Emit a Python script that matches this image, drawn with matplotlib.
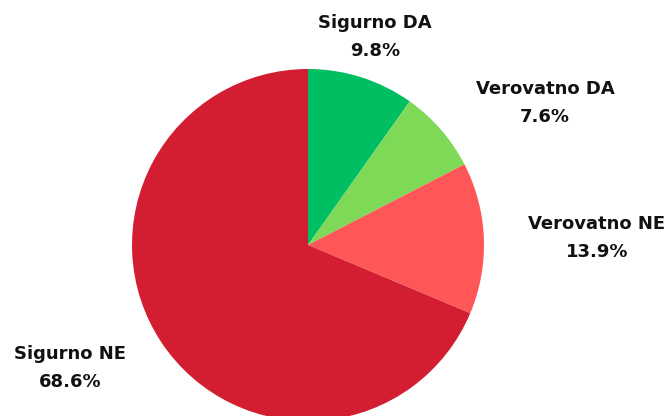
import matplotlib.pyplot as plt

categories = ['Sigurno DA', 'Verovatno DA', 'Verovatno NE', 'Sigurno NE']
shares = [9.8, 7.6, 13.9, 68.6]
colors = ['#00bf63', '#7ed957', '#ff5757', '#d31e32']

# label centres in pixel coordinates (y measured from top)
label_pos = [(375, 37), (545, 103), (597, 238), (70, 368)]

W, H = 670, 416
fig = plt.figure(figsize=(W / 100, H / 100), dpi=100)
ax = fig.add_axes([0, 0, 1, 1])

ax.pie(shares, colors=colors, startangle=90, counterclock=False,
       center=(308, H - 245), radius=176, frame=True,
       wedgeprops=dict(linewidth=0))
ax.set_xlim(0, W)
ax.set_ylim(0, H)
ax.axis('off')

for name, val, (x, y) in zip(categories, shares, label_pos):
    ax.text(x, H - y, f'{name}\n{val:.1f}%', ha='center', va='center',
            fontsize=13, fontweight='bold', family='DejaVu Sans',
            linespacing=1.7, color='#111111')

fig.savefig('out.png', dpi=100)
